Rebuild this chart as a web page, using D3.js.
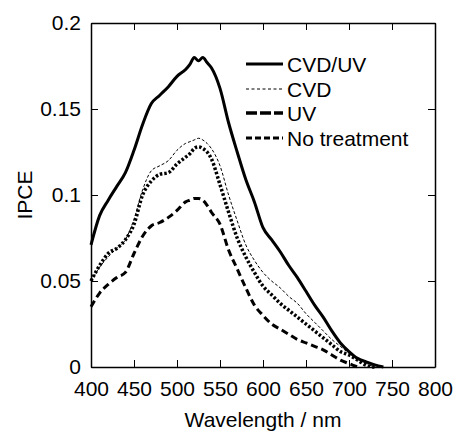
<!DOCTYPE html>
<html><head><meta charset="utf-8">
<script src="https://cdn.jsdelivr.net/npm/d3@7"></script>
<style>body{margin:0;background:#fff}svg{display:block}text{font-family:"Liberation Sans",Arial,sans-serif;fill:#000}</style>
</head><body>
<script>
const wavelengths = [400,410,420,430,440,450,460,470,480,490,500,510,515,520,525,530,535,540,550,560,570,580,590,600,610,620,630,640,650,660,670,680,690,700,710,720,730,740];
const cvdUV = [0.071,0.088,0.097,0.105,0.113,0.126,0.141,0.153,0.158,0.163,0.169,0.173,0.176,0.180,0.178,0.180,0.177,0.174,0.162,0.142,0.125,0.109,0.096,0.081,0.074,0.067,0.059,0.052,0.044,0.036,0.029,0.021,0.014,0.009,0.005,0.003,0.0012,0.0];
const cvd = [0.050,0.058,0.064,0.069,0.074,0.086,0.103,0.114,0.117,0.120,0.126,0.130,0.131,0.132,0.133,0.132,0.130,0.127,0.117,0.100,0.085,0.071,0.062,0.055,0.050,0.046,0.041,0.037,0.031,0.026,0.021,0.016,0.012,0.008,0.005,0.002,0.0,null];
const uv = [0.050,0.059,0.066,0.069,0.074,0.083,0.100,0.108,0.112,0.113,0.118,0.122,0.124,0.127,0.128,0.127,0.125,0.121,0.106,0.090,0.075,0.064,0.055,0.047,0.042,0.037,0.033,0.029,0.025,0.021,0.017,0.013,0.009,0.007,0.004,0.001,0.0,null];
const noTreatment = [0.035,0.043,0.048,0.052,0.055,0.066,0.076,0.082,0.084,0.087,0.091,0.096,0.097,0.098,0.098,0.097,0.094,0.090,0.083,0.068,0.057,0.046,0.036,0.030,0.025,0.022,0.019,0.016,0.014,0.012,0.010,0.007,0.004,0.002,0.0,null,null,null];
const xTicks = [400,450,500,550,600,650,700,750,800];
const yTicks = [0,0.05,0.1,0.15,0.2];
const yTickLabels = ["0","0.05","0.1","0.15","0.2"];
const seriesNames = ["CVD/UV","CVD","UV","No treatment"];

const W=454,H=431;
const m={l:91,r:19,t:23,b:64};
const svg=d3.select("body").append("svg").attr("width",W).attr("height",H);
const x=d3.scaleLinear().domain([400,800]).range([m.l,W-m.r]);
const y=d3.scaleLinear().domain([0,0.2]).range([H-m.b,m.t]);

const styles=[
 {w:3,dash:null,legDash:null},
 {w:1,dash:"3,2",legDash:"3,2.5"},
 {w:3.5,dash:"2.5,2",legDash:"11,3"},
 {w:3,dash:"7,4",legDash:"6,3"}
];
const data=[cvdUV,cvd,uv,noTreatment];

const g=svg.append("g");
const line=d3.line().defined(d=>d[1]!==null).curve(d3.curveMonotoneX).x(d=>x(d[0])).y(d=>y(d[1]));
data.forEach((vals,i)=>{
  const pts=wavelengths.map((w,j)=>[w,vals[j]]);
  g.append("path").attr("d",line(pts)).attr("fill","none").attr("stroke","#000")
   .attr("stroke-width",styles[i].w).attr("stroke-dasharray",styles[i].dash)
   .attr("stroke-linejoin","round");
});

// axes
const tl=7;
const fs=21;
const axB=svg.append("g").attr("transform",`translate(0,${y(0)})`)
 .call(d3.axisBottom(x).tickValues(xTicks).tickSizeInner(-tl).tickSizeOuter(0).tickPadding(14));
const axT=svg.append("g").attr("transform",`translate(0,${y(0.2)})`)
 .call(d3.axisTop(x).tickValues(xTicks).tickSizeInner(-tl).tickSizeOuter(0).tickFormat(""));
const axL=svg.append("g").attr("transform",`translate(${x(400)},0)`)
 .call(d3.axisLeft(y).tickValues(yTicks).tickSizeInner(-tl).tickSizeOuter(0).tickPadding(10).tickFormat((d,i)=>yTickLabels[i]));
const axR=svg.append("g").attr("transform",`translate(${x(800)},0)`)
 .call(d3.axisRight(y).tickValues(yTicks).tickSizeInner(-tl).tickSizeOuter(0).tickFormat(""));
[axB,axT,axL,axR].forEach(a=>{
  a.selectAll("path.domain").attr("stroke","#000").attr("stroke-width",1.5);
  a.selectAll(".tick line").attr("stroke","#000").attr("stroke-width",1);
  a.selectAll("text").attr("font-size",fs).attr("font-family","Liberation Sans, Arial, sans-serif").attr("fill","#000");
});
axB.selectAll(".tick text").attr("dy","0.71em");

svg.append("text").attr("x",(x(400)+x(800))/2).attr("y",427).attr("text-anchor","middle")
  .attr("font-size",fs).text("Wavelength / nm");
svg.append("text").attr("transform",`translate(32,${(y(0)+y(0.2))/2}) rotate(-90)`)
  .attr("text-anchor","middle").attr("font-size",fs).text("IPCE");

// legend
const legY=[64,89,113,138];
seriesNames.forEach((n,i)=>{
  svg.append("line").attr("x1",246).attr("x2",283).attr("y1",legY[i]).attr("y2",legY[i])
   .attr("stroke","#000").attr("stroke-width",styles[i].w).attr("stroke-dasharray",styles[i].legDash);
  svg.append("text").attr("x",287).attr("y",legY[i]+7.5).attr("font-size",fs).text(n);
});
</script>
</body></html>
